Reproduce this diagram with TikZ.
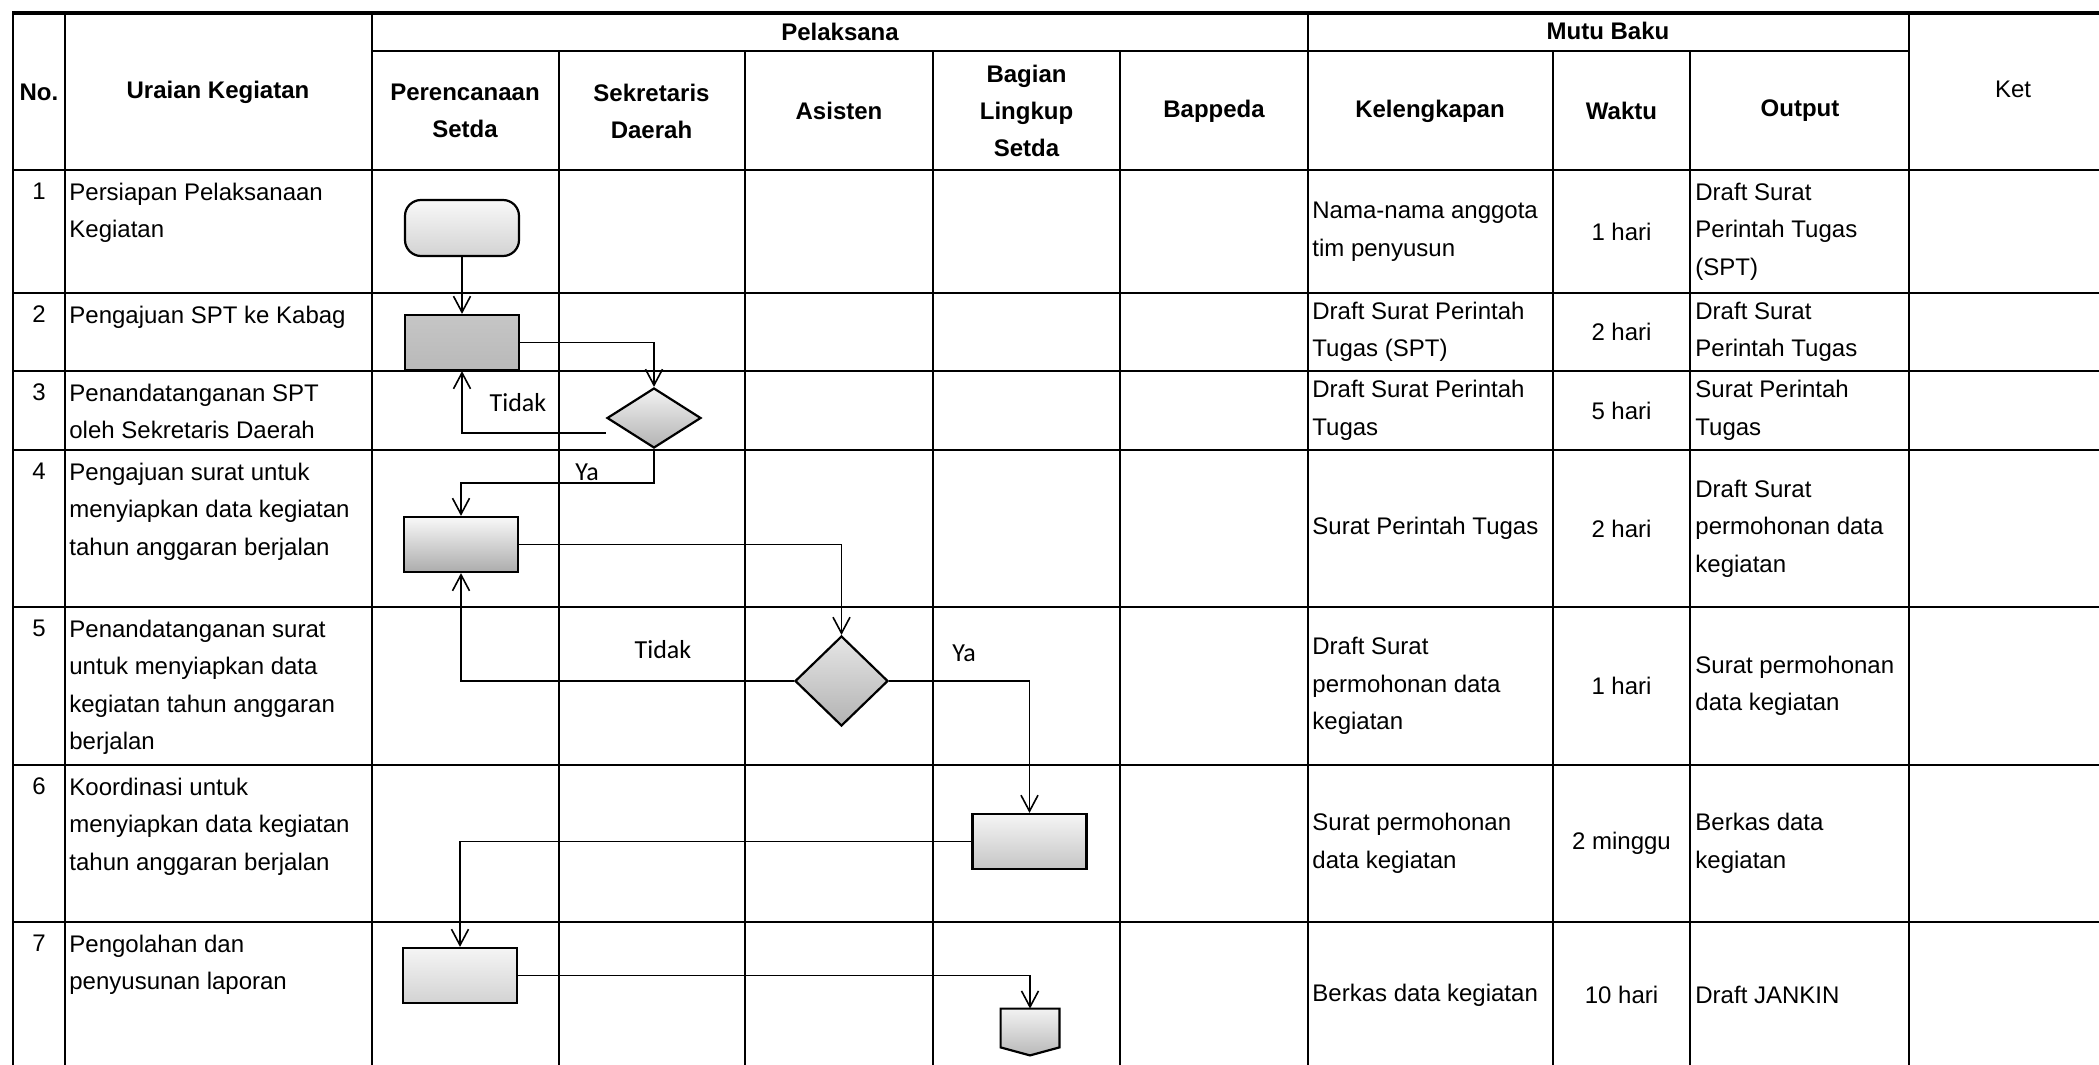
\documentclass[tikz,border=0pt]{standalone}
\usepackage{fontspec}
\setmainfont{Liberation Sans}
\newfontfamily\calibrifont{Carlito}
\usepackage{tikz}
\usetikzlibrary{arrows.meta,shapes.geometric}
\newcommand{\fonisi}{\fontsize{12}{18.75}\selectfont}
\newcommand{\fonjudul}{\fontsize{12}{18.5}\selectfont\bfseries}
\tikzset {
	garis/.style={line width=1pt},
	garistebal/.style={line width=1.4pt},
	judul/.style={inner sep=0pt, align=center, font=\fonjudul},
	isi/.style={inner sep=0pt, align=left, font=\fonisi},
	proses/.style={rectangle, draw, line width=1.1pt, minimum width=57pt, minimum height=27.5pt, inner sep=0pt},
	mulai/.style={proses, rounded corners=8pt, minimum height=28pt},
	keputusan/.style={diamond, draw, line width=1.1pt, inner sep=0pt},
	alur/.style={line width=0.8pt, -{Straight Barb[length=8pt,width=8.5pt]}},
	cabang/.style={inner sep=0pt, font=\calibrifont\fontsize{13}{15}\selectfont}
}
\begin{document}
\begin{tikzpicture}[x=0.5pt, y=-0.5pt]
	\useasboundingbox (0,0) rectangle (2099,1065);
	\clip (0,0) rectangle (2099,1065);
	\draw[line width=2pt] (12,13) -- (2110,13);
	\draw[garis] (372,51) -- (1909,51);
	\draw[garistebal] (13,170) -- (2110,170) (13,293) -- (2110,293) (13,371) -- (2110,371)
		(13,450) -- (2110,450) (13,607) -- (2110,607) (13,765) -- (2110,765) (13,922) -- (2110,922);
	\draw[garistebal] (13,13) -- (13,1080);
	\draw[garis] (65,13) -- (65,1080) (372,13) -- (372,1080) (1307.5,13) -- (1307.5,1080) (1909,13) -- (1909,1080)
		(558.5,51) -- (558.5,1080) (745,51) -- (745,1080) (933,51) -- (933,1080) (1120,51) -- (1120,1080)
		(1553,51) -- (1553,1080) (1690,51) -- (1690,1080);

	\node[judul] (hno) at (39,92) {No.};
	\node[judul] (hur) at (218,92) {Uraian Kegiatan};
	\node[judul] (hpel) at (840,32) {Pelaksana};
	\node[judul] (hper) at (465,111) {Perencanaan\\Setda};
	\node[judul] (hsek) at (651.5,111) {Sekretaris\\Daerah};
	\node[judul] (hasi) at (839,111) {Asisten};
	\node[judul] (hbag) at (1026.5,111) {Bagian\\Lingkup\\Setda};
	\node[judul] (hbap) at (1214,111) {Bappeda};
	\node[judul] (hmutu) at (1608,31) {Mutu Baku};
	\node[judul] (hkel) at (1430,111) {Kelengkapan};
	\node[judul] (hwkt) at (1621.5,111) {Waktu};
	\node[judul] (hout) at (1800,111) {Output};
	\node[isi] (hket) at (2013,89) {Ket};

	\node[isi, anchor=north] (no1) at (39,182.5) {1};
	\node[isi, anchor=north west] (ur1) at (69,182.5) {Persiapan Pelaksanaan\\Kegiatan};
	\node[isi, anchor=west] (kel1) at (1312,231.5) {Nama-nama anggota\\tim penyusun};
	\node[isi] (wkt1) at (1621.5,231.5) {1 hari};
	\node[isi, anchor=west] (out1) at (1695,231.5) {Draft Surat\\Perintah Tugas\\(SPT)};

	\node[isi, anchor=north] (no2) at (39,305.5) {2};
	\node[isi, anchor=north west] (ur2) at (69,305.5) {Pengajuan SPT ke Kabag};
	\node[isi, anchor=west] (kel2) at (1312,332) {Draft Surat Perintah\\Tugas (SPT)};
	\node[isi] (wkt2) at (1621.5,332) {2 hari};
	\node[isi, anchor=west] (out2) at (1695,332) {Draft Surat\\Perintah Tugas};

	\node[isi, anchor=north] (no3) at (39,383.5) {3};
	\node[isi, anchor=north west] (ur3) at (69,383.5) {Penandatanganan SPT\\oleh Sekretaris Daerah};
	\node[isi, anchor=west] (kel3) at (1312,410.5) {Draft Surat Perintah\\Tugas};
	\node[isi] (wkt3) at (1621.5,410.5) {5 hari};
	\node[isi, anchor=west] (out3) at (1695,410.5) {Surat Perintah\\Tugas};

	\node[isi, anchor=north] (no4) at (39,462.5) {4};
	\node[isi, anchor=north west] (ur4) at (69,462.5) {Pengajuan surat untuk\\menyiapkan data kegiatan\\tahun anggaran berjalan};
	\node[isi, anchor=west] (kel4) at (1312,528.5) {Surat Perintah Tugas};
	\node[isi] (wkt4) at (1621.5,528.5) {2 hari};
	\node[isi, anchor=west] (out4) at (1695,528.5) {Draft Surat\\permohonan data\\kegiatan};

	\node[isi, anchor=north] (no5) at (39,619.5) {5};
	\node[isi, anchor=north west] (ur5) at (69,619.5) {Penandatanganan surat\\untuk menyiapkan data\\kegiatan tahun anggaran\\berjalan};
	\node[isi, anchor=west] (kel5) at (1312,686) {Draft Surat\\permohonan data\\kegiatan};
	\node[isi] (wkt5) at (1621.5,686) {1 hari};
	\node[isi, anchor=west] (out5) at (1695,686) {Surat permohonan\\data kegiatan};

	\node[isi, anchor=north] (no6) at (39,777.5) {6};
	\node[isi, anchor=north west] (ur6) at (69,777.5) {Koordinasi untuk\\menyiapkan data kegiatan\\tahun anggaran berjalan};
	\node[isi, anchor=west] (kel6) at (1312,843.5) {Surat permohonan\\data kegiatan};
	\node[isi] (wkt6) at (1621.5,843.5) {2 minggu};
	\node[isi, anchor=west] (out6) at (1695,843.5) {Berkas data\\kegiatan};

	\node[isi, anchor=north] (no7) at (39,934.5) {7};
	\node[isi, anchor=north west] (ur7) at (69,934.5) {Pengolahan dan\\penyusunan laporan};
	\node[isi, anchor=west] (kel7) at (1312,995) {Berkas data kegiatan};
	\node[isi] (wkt7) at (1621.5,995) {10 hari};
	\node[isi, anchor=west] (out7) at (1695,995) {Draft JANKIN};

	\node[mulai, top color=gray!5, bottom color=gray!35] (mulai1) at (462,228) {};
	\node[proses, top color=gray!45, bottom color=gray!55] (spt) at (462,342.5) {};
	\node[keputusan, minimum width=47pt, minimum height=30pt, top color=gray!10, bottom color=gray!60] (cek1) at (654,418) {};
	\node[proses, top color=gray!5, middle color=gray!15, bottom color=gray!65] (surat) at (461,544.5) {};
	\node[keputusan, minimum width=46.5pt, minimum height=45pt, top color=gray!20, bottom color=gray!60] (cek2) at (841.5,681) {};
	\node[proses, top color=gray!8, bottom color=gray!45] (koord) at (1029.5,841.5) {};
	\node[proses, top color=gray!8, bottom color=gray!35] (olah) at (460,975.5) {};
	\node[minimum width=29pt, minimum height=23pt, inner sep=0pt] (lanjut) at (1030,1032) {};
	\draw[line width=1.1pt, top color=gray!10, bottom color=gray!55] (lanjut.north west) -- (lanjut.north east)
		-- ([yshift=4pt]lanjut.south east) -- (lanjut.south) -- ([yshift=4pt]lanjut.south west) -- cycle;

	\draw[alur] (mulai1.south) -- (spt.north);
	\draw[alur] (spt.east) -| (cek1.north);
	\draw[alur] ([yshift=-7.5pt]cek1.west) -| (spt.south);
	\draw[alur] (cek1.south) -- ++(0,34) -| (surat.north);
	\draw[alur] (surat.east) -| (cek2.north);
	\draw[alur] (cek2.west) -| (surat.south);
	\draw[alur] (cek2.east) -| (koord.north);
	\draw[alur] (koord.west) -| (olah.north);
	\draw[alur] (olah.east) -| (lanjut.north);

	\node[cabang] (tidak1) at (518,403) {Tidak};
	\node[cabang] (ya1) at (587,472) {Ya};
	\node[cabang] (tidak2) at (663,650) {Tidak};
	\node[cabang] (ya2) at (964,653) {Ya};
\end{tikzpicture}
\end{document}
